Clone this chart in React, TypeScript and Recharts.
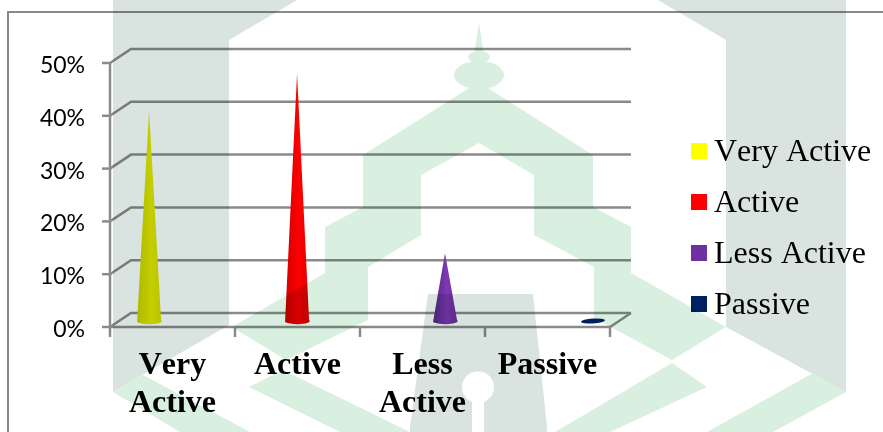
import {
  Bar,
  CartesianGrid,
  ComposedChart,
  Legend,
  XAxis,
  YAxis,
} from "recharts";

const categories = ["Very Active", "Active", "Less Active", "Passive"];
const shares = [40, 47, 13, 0];
const conePositions = [0, 1, 2, 3];
const yTicks = [0, 10, 20, 30, 40, 50];
const colors = ["#ffff00", "#ff0000", "#7030a0", "#002060"];
const gradients = [
  ["#cfcf00", "#e8e800", "#dcdc00"],
  ["#d00000", "#ff0000", "#e00000"],
  ["#54287e", "#7e38b4", "#6a2f98"],
  ["#002060", "#002a70", "#001c50"],
];

const data = categories.map((name, i) => ({
  name,
  share: shares[i],
  pos: conePositions[i],
}));

const GRID = "#8a8a8a";
const DEPTH_X = 21;
const DEPTH_Y = 14;
const SERIF = '"Liberation Serif", serif';

// floor and wall lines get the fake 3D offset from the real grid line
const GridLine = (props: any) => {
  const { x1, x2, y1 } = props;
  const isFloor = props.index === 0 || y1 > 320;
  return (
    <g fill="none" stroke={GRID} strokeWidth={2.5}>
      <path d={`M${x1} ${y1}L${x1 + DEPTH_X} ${y1 - DEPTH_Y}H${x2 + DEPTH_X}`} />
      {isFloor && <path d={`M${x2} ${y1}L${x2 + DEPTH_X} ${y1 - DEPTH_Y}`} />}
    </g>
  );
};

const Cone = (props: any) => {
  const { x, y, width, height, index } = props;
  const cx = x + width / 2;
  const r = width / 2;
  const base = y + height - 5;
  if (shares[index] === 0) {
    return (
      <ellipse
        cx={cx}
        cy={base - 1}
        rx={r}
        ry={2.5}
        fill={colors[index]}
        transform={`rotate(-3 ${cx} ${base - 1})`}
      />
    );
  }
  return (
    <path
      d={`M${cx - r} ${base}L${cx} ${y - 5}L${cx + r} ${base - 2}A${r} 3 0 0 1 ${cx - r} ${base}Z`}
      fill={`url(#cone${index})`}
    />
  );
};

const YTick = (props: any) => {
  const { y, payload } = props;
  return (
    <g>
      <line x1={102} x2={110} y1={y} y2={y} stroke={GRID} strokeWidth={2.5} />
      <text
        x={85}
        y={y + 10}
        textAnchor="end"
        fontFamily="Lato"
        fontSize={23}
        fill="#000"
      >
        {payload.value}%
      </text>
    </g>
  );
};

const XTick = (props: any) => {
  const { x, payload, index } = props;
  const y = props.y - 8; // drop the default tick margin, ticks start on the axis
  const half = 62.5;
  const words = payload.value.split(" ");
  return (
    <g>
      <line x1={x - half} x2={x - half} y1={y} y2={y + 10} stroke={GRID} strokeWidth={2.5} />
      {index === categories.length - 1 && (
        <line x1={x + half} x2={x + half} y1={y} y2={y + 10} stroke={GRID} strokeWidth={2.5} />
      )}
      <text
        textAnchor="middle"
        fontFamily={SERIF}
        fontWeight="bold"
        fontSize={32}
        fill="#000"
        style={{ fontKerning: "none" }}
      >
        {words.map((w: string, i: number) => (
          <tspan key={i} x={x} y={y + 47 + i * 37.5}>
            {w}
          </tspan>
        ))}
      </text>
    </g>
  );
};

const LegendBox = () => (
  <div style={{ fontFamily: SERIF, fontSize: 32, color: "#000", fontKerning: "none" }}>
    {categories.map((name, i) => (
      <div
        key={name}
        style={{ display: "flex", alignItems: "center", height: 51, whiteSpace: "nowrap" }}
      >
        <span
          style={{ width: 16, height: 16, marginRight: 7, background: colors[i] }}
        />
        {name}
      </div>
    ))}
  </div>
);

// faint page watermark, it lies over the chart in the source scan
const Watermark = () => (
  <svg
    width={883}
    height={432}
    style={{
      position: "absolute",
      left: 0,
      top: 0,
      mixBlendMode: "multiply",
      pointerEvents: "none",
    }}
  >
    <g fill="#d9e3e0">
      <polygon points="113,0 297,0 229,40 229,325 113,392" />
      <polygon points="658,0 846,0 846,392 726,327 726,40" />
      <path
        fillRule="evenodd"
        d="M428 294H533L547 427V432H410V427ZM472 432V402A16 16 0 1 1 484 402V432Z"
      />
    </g>
    <g fill="#d9efe0">
      <polygon points="479,23 484,56 474,56" />
      <ellipse cx={479} cy={57} rx={11} ry={6} />
      <ellipse cx={479} cy={75} rx={25} ry={14} />
      <polygon points="479,80 491,90 593,155 593,207 631,227 631,273 726,327 672,360 594,318 594,267 534,235 534,175 479,143 421,175 421,235 368,267 368,320 286,360 232,327 325,273 325,227 363,207 363,155 466,90" />
      <polygon points="113,392 143,375 250,432 180,432" />
      <polygon points="249,387 283,370 410,432 340,432" />
      <polygon points="672,363 707,387 610,432 555,432" />
      <polygon points="813,373 846,392 773,432 707,432" />
    </g>
  </svg>
);

export default function App() {
  return (
    <div
      style={{
        position: "fixed",
        left: 0,
        top: 0,
        width: 883,
        height: 432,
        background: "#fff",
      }}
    >
      <div
        style={{
          position: "absolute",
          left: 7,
          top: 11,
          width: 876,
          height: 421,
          borderLeft: "2px solid #8a8a8a",
          borderTop: "2px solid #8a8a8a",
          boxSizing: "border-box",
        }}
      />
      <div style={{ position: "absolute", left: 0, top: 0 }}>
        <ComposedChart
          width={883}
          height={432}
          data={data}
          margin={{ top: 63, right: 273, bottom: 0, left: 0 }}
        >
          <defs>
            {gradients.map((g, i) => (
              <linearGradient key={i} id={`cone${i}`} x1="0" y1="0" x2="1" y2="0">
                <stop offset="0%" stopColor={g[0]} />
                <stop offset="55%" stopColor={g[1]} />
                <stop offset="100%" stopColor={g[2]} />
              </linearGradient>
            ))}
          </defs>
          <CartesianGrid vertical={false} horizontal={(p: any) => <GridLine {...p} />} />
          <XAxis
            dataKey="name"
            height={105}
            interval={0}
            tick={(p: any) => <XTick {...p} />}
            tickLine={false}
            axisLine={{ stroke: GRID, strokeWidth: 2.5 }}
          />
          <XAxis
            xAxisId="cones"
            type="number"
            dataKey="pos"
            domain={[-0.264, 3.115]}
            hide
          />
          <YAxis
            width={110}
            domain={[0, 50]}
            ticks={yTicks}
            tick={(p: any) => <YTick {...p} />}
            tickLine={false}
            axisLine={{ stroke: GRID, strokeWidth: 2.5 }}
          />
          <Legend
            layout="vertical"
            align="center"
            verticalAlign="middle"
            content={<LegendBox />}
            wrapperStyle={{ left: 691, top: 125, width: 192, bottom: "auto" }}
          />
          <Bar
            xAxisId="cones"
            dataKey="share"
            barSize={24}
            shape={(p: any) => <Cone {...p} />}
            isAnimationActive={false}
          />
        </ComposedChart>
      </div>
      <Watermark />
    </div>
  );
}
